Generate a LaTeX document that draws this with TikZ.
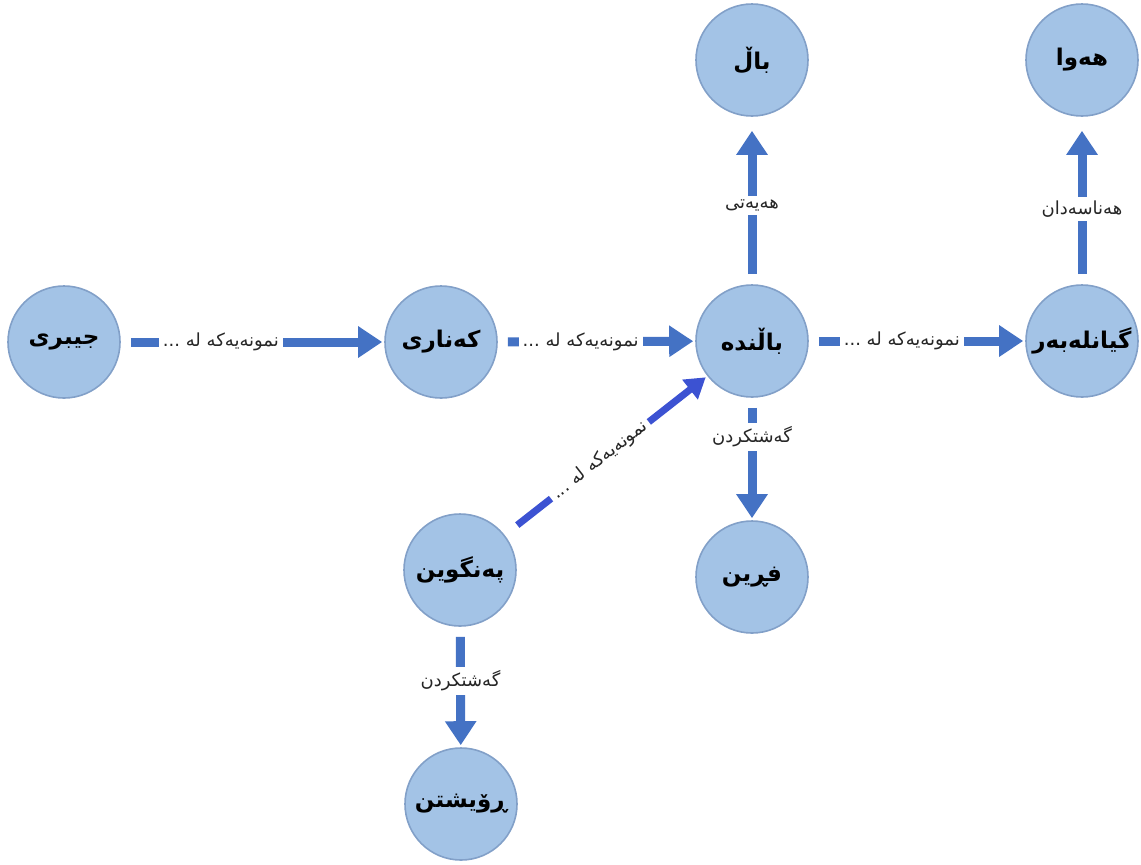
\documentclass[tikz,border=0pt]{standalone}
\usepackage{fontspec}
\newfontfamily\ku[Script=Arabic]{DejaVu Sans}
\TeXXeTstate=1
\usetikzlibrary{arrows.meta}
\definecolor{nodefill}{RGB}{163,195,230}
\definecolor{nodeline}{RGB}{130,160,200}
\definecolor{arr}{RGB}{68,114,196}
\definecolor{arrd}{RGB}{60,82,210}
\newcommand{\kt}[1]{{\ku\beginR #1\endR}}
\begin{document}
\begin{tikzpicture}[x=0.5pt,y=-0.5pt,
  concept/.style={circle, fill=nodefill, draw=nodeline, line width=0.8pt, minimum size=56pt, inner sep=0pt, font=\ku\bfseries\fontsize{11.5}{13}\selectfont},
  rel/.style={draw=arr, line width=4.5pt, -{Triangle[width=15pt,length=12pt]}, shorten <=5pt, shorten >=1pt},
  lbl/.style={fill=white, inner sep=2pt, font=\ku\fontsize{9}{11}\selectfont, text=black!85},
]
\useasboundingbox (0,0) rectangle (1141,864);
\node[concept] (jibri) at (64,342) {\kt{جیبری}};
\node[concept] (kanari) at (441,342) {\kt{کەناری}};
\node[concept] (balinda) at (752,341) {\kt{باڵندە}};
\node[concept] (gian) at (1082,341) {\kt{گیانلەبەر}};
\node[concept] (bal) at (752,60) {\kt{باڵ}};
\node[concept] (hawa) at (1082,60) {\kt{هەوا}};
\node[concept] (frin) at (752,577) {\kt{فڕین}};
\node[concept] (pengwin) at (460,570) {\kt{پەنگوین}};
\node[concept] (royshtn) at (461,804) {\kt{ڕۆیشتن}};

\draw[rel] (jibri) -- node[lbl, pos=0.38] {\kt{نمونەیەکە لە ...}} (kanari);
\draw[rel] (kanari) -- node[lbl, pos=0.42] {\kt{نمونەیەکە لە ...}} (balinda);
\draw[rel] (balinda) -- node[lbl, pos=0.43] {\kt{نمونەیەکە لە ...}} (gian);
\draw[rel, shorten >=7pt] (balinda) -- node[lbl, pos=0.47] {\kt{هەیەتی}} (bal);
\draw[rel, shorten >=7pt] (gian) -- node[lbl, pos=0.45] {\kt{هەناسەدان}} (hawa);
\draw[rel] (balinda) -- node[lbl, pos=0.32] {\kt{گەشتکردن}} (frin);
\draw[rel] (pengwin) -- node[lbl, pos=0.45] {\kt{گەشتکردن}} (royshtn);
\draw[rel, draw=arrd, line width=3.5pt, shorten <=8pt, -{Triangle[width=12pt,length=10pt]}] (pengwin) -- node[lbl, sloped, pos=0.47] {\kt{نمونەیەکە لە ...}} (balinda);
\end{tikzpicture}
\end{document}
